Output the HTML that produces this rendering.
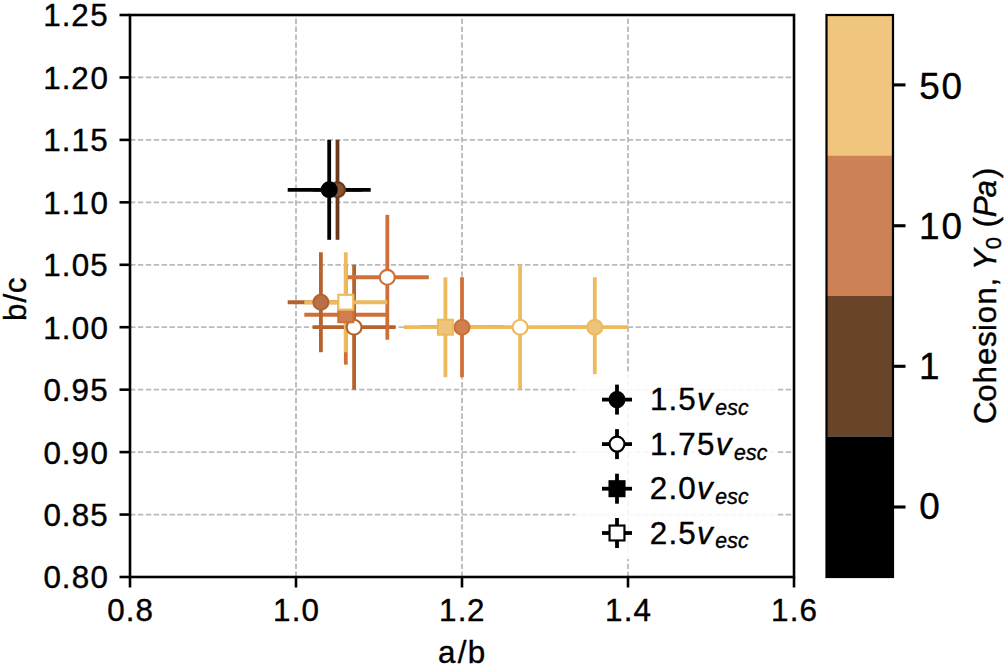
<!DOCTYPE html><html><head><meta charset="utf-8"><style>html,body{margin:0;padding:0;background:#fff;width:1005px;height:669px;overflow:hidden}svg{display:block}text{font-family:"Liberation Sans",sans-serif;stroke:#000;stroke-width:0.4px}</style></head><body>
<svg width="1005" height="669" viewBox="0 0 1005 669">
<rect x="0" y="0" width="1005" height="669" fill="#ffffff"/>
<line x1="296" y1="577" x2="296" y2="15" stroke="#bababa" stroke-width="1.8" stroke-dasharray="5.4 2.5"/>
<line x1="462" y1="577" x2="462" y2="15" stroke="#bababa" stroke-width="1.8" stroke-dasharray="5.4 2.5"/>
<line x1="628" y1="577" x2="628" y2="15" stroke="#bababa" stroke-width="1.8" stroke-dasharray="5.4 2.5"/>
<line x1="130" y1="514.56" x2="794" y2="514.56" stroke="#bababa" stroke-width="1.8" stroke-dasharray="5.4 2.5"/>
<line x1="130" y1="452.11" x2="794" y2="452.11" stroke="#bababa" stroke-width="1.8" stroke-dasharray="5.4 2.5"/>
<line x1="130" y1="389.67" x2="794" y2="389.67" stroke="#bababa" stroke-width="1.8" stroke-dasharray="5.4 2.5"/>
<line x1="130" y1="327.22" x2="794" y2="327.22" stroke="#bababa" stroke-width="1.8" stroke-dasharray="5.4 2.5"/>
<line x1="130" y1="264.78" x2="794" y2="264.78" stroke="#bababa" stroke-width="1.8" stroke-dasharray="5.4 2.5"/>
<line x1="130" y1="202.33" x2="794" y2="202.33" stroke="#bababa" stroke-width="1.8" stroke-dasharray="5.4 2.5"/>
<line x1="130" y1="139.89" x2="794" y2="139.89" stroke="#bababa" stroke-width="1.8" stroke-dasharray="5.4 2.5"/>
<line x1="130" y1="77.44" x2="794" y2="77.44" stroke="#bababa" stroke-width="1.8" stroke-dasharray="5.4 2.5"/>
<line x1="312.6" y1="189.84" x2="362.4" y2="189.84" stroke="#6b3a1e" stroke-width="3.8"/>
<line x1="337.5" y1="239.8" x2="337.5" y2="139.89" stroke="#6b3a1e" stroke-width="3.8"/>
<line x1="287.7" y1="189.84" x2="370.7" y2="189.84" stroke="#000000" stroke-width="3.8"/>
<line x1="329.2" y1="239.8" x2="329.2" y2="139.89" stroke="#000000" stroke-width="3.8"/>
<line x1="420.5" y1="327.22" x2="503.5" y2="327.22" stroke="#d07038" stroke-width="3.8"/>
<line x1="462" y1="377.18" x2="462" y2="277.27" stroke="#d07038" stroke-width="3.8"/>
<line x1="304.3" y1="314.73" x2="387.3" y2="314.73" stroke="#d07038" stroke-width="3.8"/>
<line x1="345.8" y1="364.69" x2="345.8" y2="264.78" stroke="#d07038" stroke-width="3.8"/>
<line x1="312.6" y1="327.22" x2="395.6" y2="327.22" stroke="#b5622e" stroke-width="3.8"/>
<line x1="354.1" y1="389.67" x2="354.1" y2="264.78" stroke="#b5622e" stroke-width="3.8"/>
<line x1="287.7" y1="302.24" x2="354.1" y2="302.24" stroke="#b5622e" stroke-width="3.8"/>
<line x1="320.9" y1="352.2" x2="320.9" y2="252.29" stroke="#b5622e" stroke-width="3.8"/>
<line x1="345.8" y1="277.27" x2="428.8" y2="277.27" stroke="#d07038" stroke-width="3.8"/>
<line x1="387.3" y1="339.71" x2="387.3" y2="214.82" stroke="#d07038" stroke-width="3.8"/>
<line x1="304.3" y1="302.24" x2="387.3" y2="302.24" stroke="#edba5e" stroke-width="3.8"/>
<line x1="345.8" y1="352.2" x2="345.8" y2="252.29" stroke="#edba5e" stroke-width="3.8"/>
<line x1="403.9" y1="327.22" x2="486.9" y2="327.22" stroke="#edba5e" stroke-width="3.8"/>
<line x1="445.4" y1="377.18" x2="445.4" y2="277.27" stroke="#edba5e" stroke-width="3.8"/>
<line x1="445.4" y1="327.22" x2="594.8" y2="327.22" stroke="#edba5e" stroke-width="3.8"/>
<line x1="520.1" y1="389.67" x2="520.1" y2="264.78" stroke="#edba5e" stroke-width="3.8"/>
<line x1="561.6" y1="327.22" x2="628" y2="327.22" stroke="#edba5e" stroke-width="3.8"/>
<line x1="594.8" y1="377.18" x2="594.8" y2="277.27" stroke="#edba5e" stroke-width="3.8"/>
<circle cx="337.5" cy="189.84" r="7.45" fill="#875330" stroke="#6b3a1e" stroke-width="2.15"/>
<circle cx="329.2" cy="189.84" r="7.45" fill="#000000" stroke="#000000" stroke-width="2.15"/>
<circle cx="354.1" cy="327.22" r="7.45" fill="#ffffff" stroke="#b5622e" stroke-width="2.15"/>
<circle cx="320.9" cy="302.24" r="7.45" fill="#b87048" stroke="#b5622e" stroke-width="2.15"/>
<rect x="338.35" y="307.28" width="14.9" height="14.9" fill="#d08050" stroke="#d07038" stroke-width="2.15"/>
<rect x="338.35" y="294.79" width="14.9" height="14.9" fill="#ffffff" stroke="#edba5e" stroke-width="2.15"/>
<circle cx="387.3" cy="277.27" r="7.45" fill="#ffffff" stroke="#d07038" stroke-width="2.15"/>
<circle cx="462" cy="327.22" r="7.45" fill="#d08050" stroke="#d07038" stroke-width="2.15"/>
<rect x="437.95" y="319.77" width="14.9" height="14.9" fill="#eec47c" stroke="#edba5e" stroke-width="2.15"/>
<circle cx="520.1" cy="327.22" r="7.45" fill="#ffffff" stroke="#edba5e" stroke-width="2.15"/>
<circle cx="594.8" cy="327.22" r="7.45" fill="#eec47c" stroke="#edba5e" stroke-width="2.15"/>
<rect x="575.3" y="374" width="200.70000000000005" height="185" fill="#ffffff" fill-opacity="0.88"/>
<line x1="602" y1="399.6" x2="632" y2="399.6" stroke="#000" stroke-width="3.8"/>
<line x1="617" y1="384.6" x2="617" y2="414.6" stroke="#000" stroke-width="3.8"/>
<circle cx="617" cy="399.6" r="7.45" fill="#000" stroke="#000" stroke-width="2.15"/>
<g transform="translate(649.40,410.20)" fill="#000"><text x="0.52" y="0.00" font-size="31.38">1</text><text x="19.16" y="0.00" font-size="31.38">.</text><text x="28.81" y="0.00" font-size="31.38">5</text><text x="47.62" y="0.00" font-size="31.38" font-style="italic">v</text><text x="65.90" y="4.80" font-size="21.20" font-style="italic">e</text><text x="77.90" y="4.80" font-size="21.20" font-style="italic">s</text><text x="88.61" y="4.80" font-size="21.20" font-style="italic">c</text></g>
<line x1="602" y1="444.1" x2="632" y2="444.1" stroke="#000" stroke-width="3.8"/>
<line x1="617" y1="429.1" x2="617" y2="459.1" stroke="#000" stroke-width="3.8"/>
<circle cx="617" cy="444.1" r="7.45" fill="#fff" stroke="#000" stroke-width="2.15"/>
<g transform="translate(649.40,454.70)" fill="#000"><text x="0.52" y="0.00" font-size="31.38">1</text><text x="19.16" y="0.00" font-size="31.38">.</text><text x="28.87" y="0.00" font-size="31.38">7</text><text x="47.64" y="0.00" font-size="31.38">5</text><text x="66.46" y="0.00" font-size="31.38" font-style="italic">v</text><text x="84.73" y="4.80" font-size="21.20" font-style="italic">e</text><text x="96.73" y="4.80" font-size="21.20" font-style="italic">s</text><text x="107.44" y="4.80" font-size="21.20" font-style="italic">c</text></g>
<line x1="602" y1="488.7" x2="632" y2="488.7" stroke="#000" stroke-width="3.8"/>
<line x1="617" y1="473.7" x2="617" y2="503.7" stroke="#000" stroke-width="3.8"/>
<rect x="609.55" y="481.25" width="14.9" height="14.9" fill="#000" stroke="#000" stroke-width="2.15"/>
<g transform="translate(649.40,499.30)" fill="#000"><text x="0.29" y="0.00" font-size="31.38">2</text><text x="19.16" y="0.00" font-size="31.38">.</text><text x="28.93" y="0.00" font-size="31.38">0</text><text x="47.62" y="0.00" font-size="31.38" font-style="italic">v</text><text x="65.90" y="4.80" font-size="21.20" font-style="italic">e</text><text x="77.90" y="4.80" font-size="21.20" font-style="italic">s</text><text x="88.61" y="4.80" font-size="21.20" font-style="italic">c</text></g>
<line x1="602" y1="533" x2="632" y2="533" stroke="#000" stroke-width="3.8"/>
<line x1="617" y1="518" x2="617" y2="548" stroke="#000" stroke-width="3.8"/>
<rect x="609.55" y="525.55" width="14.9" height="14.9" fill="#fff" stroke="#000" stroke-width="2.15"/>
<g transform="translate(649.40,543.60)" fill="#000"><text x="0.29" y="0.00" font-size="31.38">2</text><text x="19.16" y="0.00" font-size="31.38">.</text><text x="28.81" y="0.00" font-size="31.38">5</text><text x="47.62" y="0.00" font-size="31.38" font-style="italic">v</text><text x="65.90" y="4.80" font-size="21.20" font-style="italic">e</text><text x="77.90" y="4.80" font-size="21.20" font-style="italic">s</text><text x="88.61" y="4.80" font-size="21.20" font-style="italic">c</text></g>
<rect x="130" y="15" width="664" height="562" fill="none" stroke="#000" stroke-width="2.6"/>
<line x1="130" y1="577" x2="130" y2="587.5" stroke="#000" stroke-width="2.6"/>
<g transform="translate(130.00,621.10)" fill="#000"><text x="-22.85" y="0.00" font-size="31.38">0</text><text x="-4.37" y="0.00" font-size="31.38">.</text><text x="5.39" y="0.00" font-size="31.38">8</text></g>
<line x1="296" y1="577" x2="296" y2="587.5" stroke="#000" stroke-width="2.6"/>
<g transform="translate(296.00,621.10)" fill="#000"><text x="-23.01" y="0.00" font-size="31.38">1</text><text x="-4.37" y="0.00" font-size="31.38">.</text><text x="5.39" y="0.00" font-size="31.38">0</text></g>
<line x1="462" y1="577" x2="462" y2="587.5" stroke="#000" stroke-width="2.6"/>
<g transform="translate(462.00,621.10)" fill="#000"><text x="-23.01" y="0.00" font-size="31.38">1</text><text x="-4.37" y="0.00" font-size="31.38">.</text><text x="5.00" y="0.00" font-size="31.38">2</text></g>
<line x1="628" y1="577" x2="628" y2="587.5" stroke="#000" stroke-width="2.6"/>
<g transform="translate(628.00,621.10)" fill="#000"><text x="-23.01" y="0.00" font-size="31.38">1</text><text x="-4.37" y="0.00" font-size="31.38">.</text><text x="5.39" y="0.00" font-size="31.38">4</text></g>
<line x1="794" y1="577" x2="794" y2="587.5" stroke="#000" stroke-width="2.6"/>
<g transform="translate(794.00,621.10)" fill="#000"><text x="-23.01" y="0.00" font-size="31.38">1</text><text x="-4.37" y="0.00" font-size="31.38">.</text><text x="5.39" y="0.00" font-size="31.38">6</text></g>
<line x1="119.5" y1="577" x2="130" y2="577" stroke="#000" stroke-width="2.6"/>
<g transform="translate(108.60,588.40)" fill="#000"><text x="-65.22" y="0.00" font-size="31.38">0</text><text x="-46.74" y="0.00" font-size="31.38">.</text><text x="-36.98" y="0.00" font-size="31.38">8</text><text x="-18.15" y="0.00" font-size="31.38">0</text></g>
<line x1="119.5" y1="514.56" x2="130" y2="514.56" stroke="#000" stroke-width="2.6"/>
<g transform="translate(108.60,525.96)" fill="#000"><text x="-65.22" y="0.00" font-size="31.38">0</text><text x="-46.74" y="0.00" font-size="31.38">.</text><text x="-36.98" y="0.00" font-size="31.38">8</text><text x="-18.26" y="0.00" font-size="31.38">5</text></g>
<line x1="119.5" y1="452.11" x2="130" y2="452.11" stroke="#000" stroke-width="2.6"/>
<g transform="translate(108.60,463.51)" fill="#000"><text x="-65.22" y="0.00" font-size="31.38">0</text><text x="-46.74" y="0.00" font-size="31.38">.</text><text x="-37.07" y="0.00" font-size="31.38">9</text><text x="-18.15" y="0.00" font-size="31.38">0</text></g>
<line x1="119.5" y1="389.67" x2="130" y2="389.67" stroke="#000" stroke-width="2.6"/>
<g transform="translate(108.60,401.07)" fill="#000"><text x="-65.22" y="0.00" font-size="31.38">0</text><text x="-46.74" y="0.00" font-size="31.38">.</text><text x="-37.07" y="0.00" font-size="31.38">9</text><text x="-18.26" y="0.00" font-size="31.38">5</text></g>
<line x1="119.5" y1="327.22" x2="130" y2="327.22" stroke="#000" stroke-width="2.6"/>
<g transform="translate(108.60,338.62)" fill="#000"><text x="-65.38" y="0.00" font-size="31.38">1</text><text x="-46.74" y="0.00" font-size="31.38">.</text><text x="-36.98" y="0.00" font-size="31.38">0</text><text x="-18.15" y="0.00" font-size="31.38">0</text></g>
<line x1="119.5" y1="264.78" x2="130" y2="264.78" stroke="#000" stroke-width="2.6"/>
<g transform="translate(108.60,276.18)" fill="#000"><text x="-65.38" y="0.00" font-size="31.38">1</text><text x="-46.74" y="0.00" font-size="31.38">.</text><text x="-36.98" y="0.00" font-size="31.38">0</text><text x="-18.26" y="0.00" font-size="31.38">5</text></g>
<line x1="119.5" y1="202.33" x2="130" y2="202.33" stroke="#000" stroke-width="2.6"/>
<g transform="translate(108.60,213.73)" fill="#000"><text x="-65.38" y="0.00" font-size="31.38">1</text><text x="-46.74" y="0.00" font-size="31.38">.</text><text x="-37.14" y="0.00" font-size="31.38">1</text><text x="-18.15" y="0.00" font-size="31.38">0</text></g>
<line x1="119.5" y1="139.89" x2="130" y2="139.89" stroke="#000" stroke-width="2.6"/>
<g transform="translate(108.60,151.29)" fill="#000"><text x="-65.38" y="0.00" font-size="31.38">1</text><text x="-46.74" y="0.00" font-size="31.38">.</text><text x="-37.14" y="0.00" font-size="31.38">1</text><text x="-18.26" y="0.00" font-size="31.38">5</text></g>
<line x1="119.5" y1="77.44" x2="130" y2="77.44" stroke="#000" stroke-width="2.6"/>
<g transform="translate(108.60,88.84)" fill="#000"><text x="-65.38" y="0.00" font-size="31.38">1</text><text x="-46.74" y="0.00" font-size="31.38">.</text><text x="-37.37" y="0.00" font-size="31.38">2</text><text x="-18.15" y="0.00" font-size="31.38">0</text></g>
<line x1="119.5" y1="15" x2="130" y2="15" stroke="#000" stroke-width="2.6"/>
<g transform="translate(108.60,26.40)" fill="#000"><text x="-65.38" y="0.00" font-size="31.38">1</text><text x="-46.74" y="0.00" font-size="31.38">.</text><text x="-37.37" y="0.00" font-size="31.38">2</text><text x="-18.26" y="0.00" font-size="31.38">5</text></g>
<g transform="translate(462.40,662.90)" fill="#000"><text x="-24.31" y="0.00" font-size="31.38">a</text><text x="-4.76" y="0.00" font-size="31.38">/</text><text x="5.43" y="0.00" font-size="31.38">b</text></g>
<g transform="translate(25.80,298.90) rotate(-90)" fill="#000"><text x="-22.09" y="0.00" font-size="31.38">b</text><text x="-3.53" y="0.00" font-size="31.38">/</text><text x="5.76" y="0.00" font-size="31.38">c</text></g>
<rect x="826.5" y="15" width="66.5" height="140.5" fill="#f0c57e"/>
<rect x="826.5" y="155.5" width="66.5" height="140.5" fill="#cd8255"/>
<rect x="826.5" y="296" width="66.5" height="140.5" fill="#6a4429"/>
<rect x="826.5" y="436.5" width="66.5" height="140.5" fill="#000000"/>
<rect x="826.5" y="15" width="66.5" height="562" fill="none" stroke="#000" stroke-width="2.2"/>
<line x1="893" y1="84.9" x2="905.5" y2="84.9" stroke="#000" stroke-width="3.1"/>
<g transform="translate(918.50,99.40)" fill="#000"><text x="0.67" y="0.00" font-size="36.89">5</text><text x="22.95" y="0.00" font-size="36.89">0</text></g>
<line x1="893" y1="225.75" x2="905.5" y2="225.75" stroke="#000" stroke-width="3.1"/>
<g transform="translate(918.50,239.25)" fill="#000"><text x="0.61" y="0.00" font-size="36.89">1</text><text x="22.95" y="0.00" font-size="36.89">0</text></g>
<line x1="893" y1="366.3" x2="905.5" y2="366.3" stroke="#000" stroke-width="3.1"/>
<g transform="translate(918.50,379.10)" fill="#000"><text x="0.61" y="0.00" font-size="36.89">1</text></g>
<line x1="893" y1="507.0" x2="905.5" y2="507.0" stroke="#000" stroke-width="3.1"/>
<g transform="translate(918.50,518.95)" fill="#000"><text x="0.80" y="0.00" font-size="36.89">0</text></g>
<g transform="translate(996.30,295.90) rotate(-90)" fill="#000"><text x="-128.14" y="0.00" font-size="31.38">C</text><text x="-105.97" y="0.00" font-size="31.38">o</text><text x="-87.53" y="0.00" font-size="31.38">h</text><text x="-69.00" y="0.00" font-size="31.38">e</text><text x="-51.15" y="0.00" font-size="31.38">s</text><text x="-35.17" y="0.00" font-size="31.38">i</text><text x="-27.25" y="0.00" font-size="31.38">o</text><text x="-8.76" y="0.00" font-size="31.38">n</text><text x="9.33" y="0.00" font-size="31.38">,</text><text x="26.00" y="0.00" font-size="31.38" font-style="italic">Y</text><text x="46.66" y="4.50" font-size="21.96">0</text><text x="68.53" y="0.00" font-size="31.38">(</text><text x="78.77" y="0.00" font-size="31.38" font-style="italic">P</text><text x="98.33" y="0.00" font-size="31.38" font-style="italic">a</text><text x="117.66" y="0.00" font-size="31.38">)</text></g>
</svg></body></html>
